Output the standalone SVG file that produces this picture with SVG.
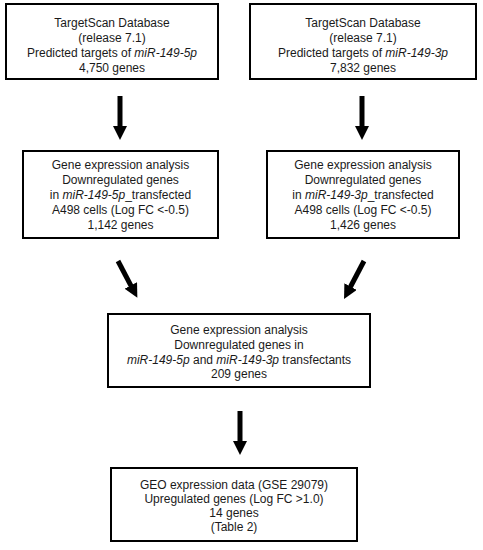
<svg xmlns="http://www.w3.org/2000/svg" width="483" height="550" viewBox="0 0 483 550">
<style>
.box{fill:#fff;stroke:#000;stroke-width:2}
text{font-family:"Liberation Sans",Arial,sans-serif;font-size:12px;fill:#1a1a1a;text-anchor:middle}
.i{font-style:italic}
.arr{stroke:#000;stroke-width:5;fill:none;marker-end:url(#ah)}
</style>
<defs>
<marker id="ah" markerUnits="userSpaceOnUse" markerWidth="14" markerHeight="14" refX="1" refY="7" orient="auto">
<path d="M0,0 L14,7 L0,14 z" fill="#000"/>
</marker>
</defs>
<rect width="483" height="550" fill="#fff"/>
<g id="connectors">
<path class="arr" d="M120,96 L120,127"/>
<path class="arr" d="M362,96 L362,127"/>
<path class="arr" d="M118,261 L131.3,286.3"/>
<path class="arr" d="M364,261 L350.1,287.5"/>
<path class="arr" d="M240,411 L240,442"/>
</g>
<g id="n1">
<rect class="box" x="6" y="4" width="212" height="75"/>
<text x="112" y="27">TargetScan Database</text>
<text x="112" y="42">(release 7.1)</text>
<text x="112" y="57">Predicted targets of <tspan class="i">miR-149-5p</tspan></text>
<text x="112" y="72">4,750 genes</text>
</g>
<g id="n2">
<rect class="box" x="250" y="4" width="226" height="75"/>
<text x="363" y="27">TargetScan Database</text>
<text x="363" y="42">(release 7.1)</text>
<text x="363" y="57">Predicted targets of <tspan class="i">miR-149-3p</tspan></text>
<text x="363" y="72">7,832 genes</text>
</g>
<g id="n3">
<rect class="box" x="23" y="151" width="195" height="87"/>
<text x="120.5" y="169">Gene expression analysis</text>
<text x="120.5" y="184">Downregulated genes</text>
<text x="120.5" y="199">in <tspan class="i">miR-149-5p</tspan>_transfected</text>
<text x="120.5" y="214">A498 cells (Log FC &lt;-0.5)</text>
<text x="120.5" y="229">1,142 genes</text>
</g>
<g id="n4">
<rect class="box" x="267" y="151" width="192" height="87"/>
<text x="363" y="169">Gene expression analysis</text>
<text x="363" y="184">Downregulated genes</text>
<text x="363" y="199">in <tspan class="i">miR-149-3p</tspan>_transfected</text>
<text x="363" y="214">A498 cells (Log FC &lt;-0.5)</text>
<text x="363" y="229">1,426 genes</text>
</g>
<g id="n5">
<rect class="box" x="108" y="314" width="262" height="73"/>
<text x="239" y="333.5">Gene expression analysis</text>
<text x="239" y="348.5">Downregulated genes in</text>
<text x="239" y="363.5"><tspan class="i">miR-149-5p</tspan> and <tspan class="i">miR-149-3p</tspan> transfectants</text>
<text x="239" y="378">209 genes</text>
</g>
<g id="n6">
<rect class="box" x="111" y="468" width="246" height="73"/>
<text x="234" y="489">GEO expression data (GSE 29079)</text>
<text x="234" y="503">Upregulated genes (Log FC &gt;1.0)</text>
<text x="234" y="517">14 genes</text>
<text x="234" y="531">(Table 2)</text>
</g>
</svg>
